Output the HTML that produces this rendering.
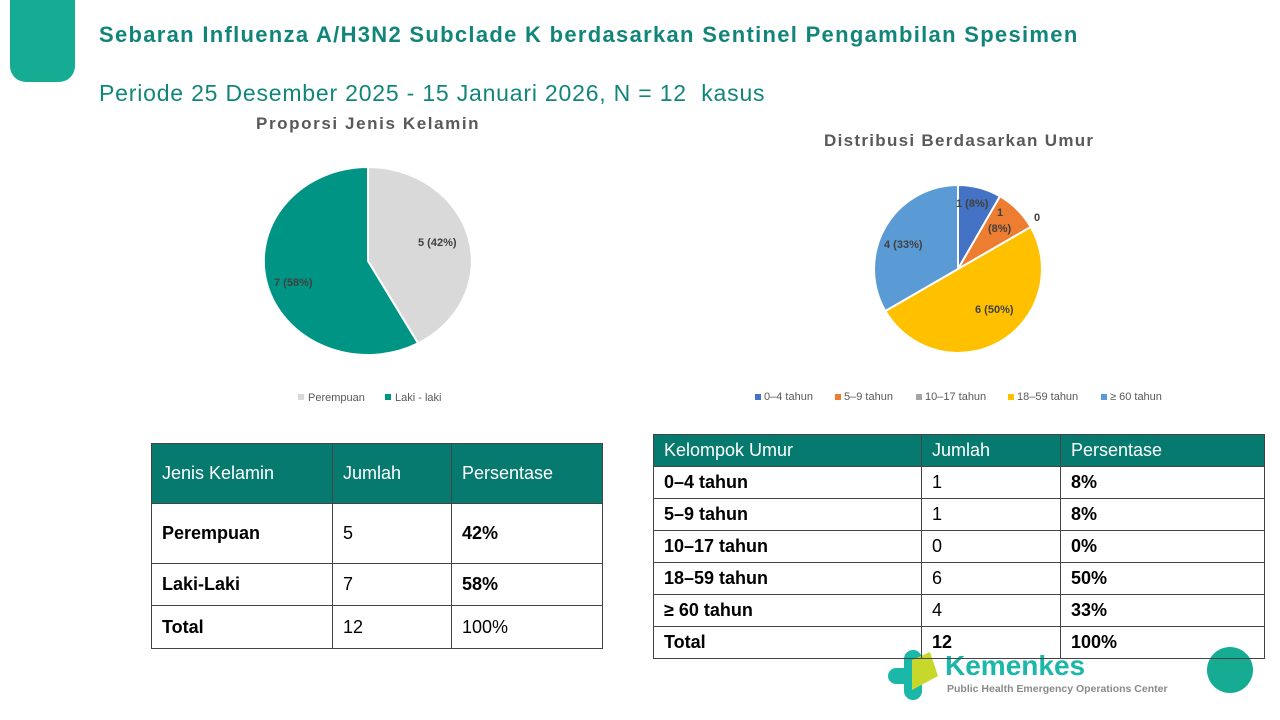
<!DOCTYPE html>
<html><head><meta charset="utf-8"><style>
body{margin:0;width:1280px;height:720px;position:relative;background:#fff;font-family:"Liberation Sans",sans-serif;overflow:hidden}
.a{position:absolute;white-space:nowrap}
table{position:absolute;border-collapse:collapse;font-size:18px;color:#000}
td{border:1px solid #444;padding:0 10px}
th{background:#077a70;color:#fff;font-weight:normal;text-align:left;padding:0 10px;border:1px solid #444}
</style></head><body>
<div class="a" style="left:10px;top:-20px;width:65px;height:102px;background:#16ac94;border-radius:0 0 16px 16px"></div>
<div class="a" style="left:99px;top:22px;font-size:22px;font-weight:bold;color:#12857b;letter-spacing:1.3px">Sebaran Influenza A/H3N2 Subclade K berdasarkan Sentinel Pengambilan Spesimen</div>
<div class="a" style="left:99px;top:80px;font-size:23px;color:#12857b;letter-spacing:0.8px">Periode 25 Desember 2025 - 15 Januari 2026, N = 12&nbsp; kasus</div>
<div class="a" style="left:256px;top:114px;font-size:17px;font-weight:bold;color:#595959;letter-spacing:1.6px">Proporsi Jenis Kelamin</div>
<div class="a" style="left:824px;top:131px;font-size:17px;font-weight:bold;color:#595959;letter-spacing:1.3px">Distribusi Berdasarkan Umur</div>
<svg class="a" style="left:0;top:0" width="1280" height="720">
<path d="M368,261 L368,167 A104,94 0 0 1 418.1,343.3 Z" fill="#d9d9d9" stroke="#fff" stroke-width="2"/>
<path d="M368,261 L418.1,343.3 A104,94 0 1 1 368,167 Z" fill="#009485" stroke="#fff" stroke-width="2"/>
<text x="418" y="246" font-size="11" font-weight="bold" fill="#404040" font-family="Liberation Sans">5 (42%)</text>
<text x="274" y="286" font-size="11" font-weight="bold" fill="#404040" font-family="Liberation Sans">7 (58%)</text>
<rect x="298" y="394" width="6" height="6" fill="#d9d9d9"/><text x="308" y="401" font-size="11" fill="#595959">Perempuan</text>
<rect x="385" y="394" width="6" height="6" fill="#009485"/><text x="395" y="401" font-size="11" fill="#595959">Laki - laki</text>
<g stroke="#fff" stroke-width="2">
<path d="M958,269 L958,185 A84,84 0 0 1 1000,196.3 Z" fill="#4472c4"/>
<path d="M958,269 L1000,196.3 A84,84 0 0 1 1030.7,227 Z" fill="#ed7d31"/>
<path d="M958,269 L1030.7,227 A84,84 0 0 1 1000,341.7 A84,84 0 0 1 885.3,311 Z" fill="#ffc000"/>
<path d="M958,269 L885.3,311 A84,84 0 0 1 958,185 Z" fill="#5b9bd5"/>
</g>
<g font-size="11" font-weight="bold" fill="#404040">
<text x="956" y="207">1 (8%)</text><text x="997" y="216">1</text><text x="988" y="232">(8%)</text>
<text x="1034" y="221">0</text><text x="884" y="248">4 (33%)</text><text x="975" y="313">6 (50%)</text></g>
<g font-size="11" fill="#595959">
<rect x="755" y="394" width="6" height="6" fill="#4472c4"/><text x="764" y="400">0–4 tahun</text>
<rect x="835" y="394" width="6" height="6" fill="#ed7d31"/><text x="844" y="400">5–9 tahun</text>
<rect x="916" y="394" width="6" height="6" fill="#a5a5a5"/><text x="925" y="400">10–17 tahun</text>
<rect x="1008" y="394" width="6" height="6" fill="#ffc000"/><text x="1017" y="400">18–59 tahun</text>
<rect x="1101" y="394" width="6" height="6" fill="#5b9bd5"/><text x="1110" y="400">≥ 60 tahun</text></g>
<circle cx="1230" cy="670" r="23" fill="#16ac94"/>
<g fill="#1bb7a8"><rect x="904" y="650" width="18" height="50" rx="9"/><rect x="888" y="668" width="30" height="16" rx="8"/></g>
<g fill="#c8d82a"><path d="M912,660 L930,652 L938,676 L912,690 Z"/></g>
<text x="945" y="675" font-size="28" font-weight="bold" fill="#1bb7a8">Kemenkes</text>
<text x="947" y="692" font-size="10.5" font-weight="bold" fill="#8a8a8a">Public Health Emergency Operations Center</text>
</svg>
<table style="left:151px;top:443px;width:452px">
<tr style="height:60px"><th style="width:160px">Jenis Kelamin</th><th style="width:98px">Jumlah</th><th>Persentase</th></tr>
<tr style="height:60px"><td><b>Perempuan</b></td><td>5</td><td><b>42%</b></td></tr>
<tr style="height:42px"><td><b>Laki-Laki</b></td><td>7</td><td><b>58%</b></td></tr>
<tr style="height:43px"><td><b>Total</b></td><td>12</td><td>100%</td></tr>
</table>
<table style="left:653px;top:434px;width:612px">
<tr style="height:32px"><th style="width:247px">Kelompok Umur</th><th style="width:118px">Jumlah</th><th>Persentase</th></tr>
<tr style="height:32px"><td><b>0–4 tahun</b></td><td>1</td><td><b>8%</b></td></tr>
<tr style="height:32px"><td><b>5–9 tahun</b></td><td>1</td><td><b>8%</b></td></tr>
<tr style="height:32px"><td><b>10–17 tahun</b></td><td>0</td><td><b>0%</b></td></tr>
<tr style="height:32px"><td><b>18–59 tahun</b></td><td>6</td><td><b>50%</b></td></tr>
<tr style="height:32px"><td><b>≥ 60 tahun</b></td><td>4</td><td><b>33%</b></td></tr>
<tr style="height:32px"><td><b>Total</b></td><td><b>12</b></td><td><b>100%</b></td></tr>
</table>
</body></html>
